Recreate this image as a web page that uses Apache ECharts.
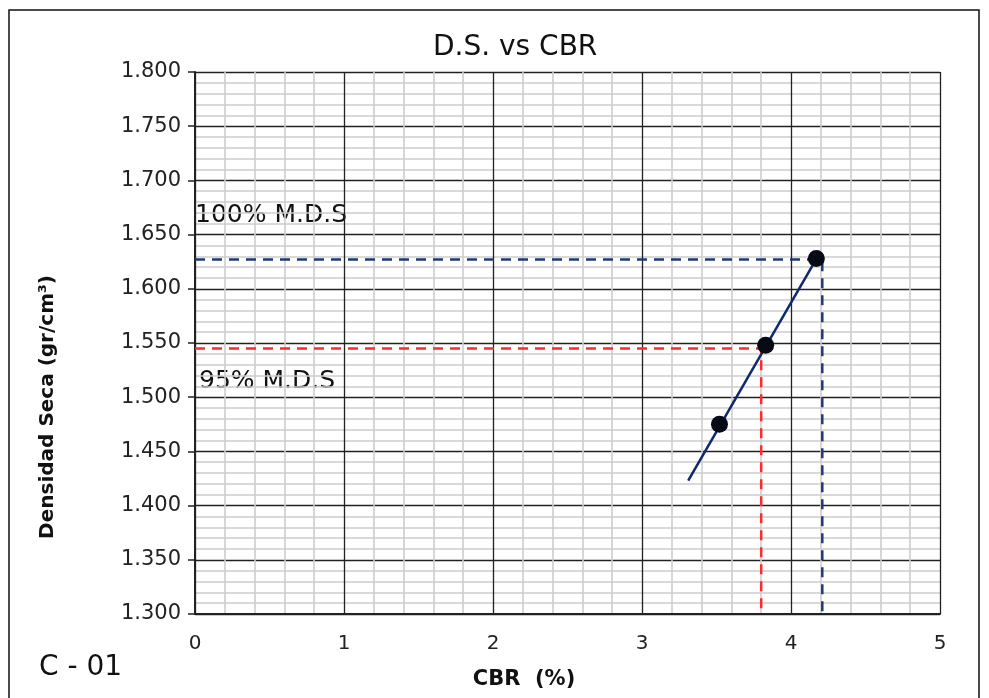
<!DOCTYPE html>
<html lang="es">
<head>
<meta charset="UTF-8">
<title>D.S. vs CBR</title>
<script src="https://cdn.jsdelivr.net/npm/echarts@6/dist/echarts.min.js"></script>
<style>
  html, body { margin: 0; padding: 0; background: #fff; }
  #main { width: 989px; height: 698px; }
</style>
</head>
<body>
<div id="main"></div>
<script>
// puntos del ensayo
var cbrPts = [3.52, 3.83, 4.17];
var dsPts = [1.475, 1.548, 1.628];
// recta de ajuste
var trendX = [3.31, 4.18];
var trendY = [1.423, 1.630];
// lineas de referencia
var mds100 = 1.627, cbr100 = 4.21;
var mds95 = 1.545, cbr95 = 3.80;

var chart = echarts.init(document.getElementById('main'));
var font = 'DejaVu Sans, sans-serif';

function pairs(xs, ys) {
  var out = [];
  for (var i = 0; i < xs.length; i++) out.push([xs[i], ys[i]]);
  return out;
}

var option = {
  backgroundColor: '#fff',
  animation: false,
  title: {
    text: 'D.S. vs CBR',
    left: 428,
    top: 29,
    textStyle: { fontFamily: font, fontSize: 28, fontWeight: 'normal', color: '#111' }
  },
  grid: { left: 195, top: 72, right: 49, bottom: 84 },
  xAxis: {
    type: 'value',
    min: 0, max: 5, interval: 1,
    axisLine: { lineStyle: { color: '#222', width: 2 } },
    axisTick: { show: false },
    axisLabel: { fontFamily: font, fontSize: 20, color: '#222', margin: 20 },
    splitLine: { lineStyle: { color: '#222', width: 1.3 } },
    minorTick: { show: false, splitNumber: 5 },
    minorSplitLine: { show: true, lineStyle: { color: '#cdcdcd', width: 1.6 } }
  },
  yAxis: {
    type: 'value',
    min: 1.3, max: 1.8, interval: 0.05,
    axisLine: { lineStyle: { color: '#222', width: 2 } },
    axisTick: { show: true, length: 7, lineStyle: { color: '#222', width: 1.5 } },
    axisLabel: {
      fontFamily: font, fontSize: 21, color: '#222', margin: 14,
      formatter: function (v) { return v.toFixed(3); }
    },
    splitLine: { lineStyle: { color: '#222', width: 1.3 } },
    minorTick: { show: false, splitNumber: 5 },
    minorSplitLine: { show: true, lineStyle: { color: '#cdcdcd', width: 1.6 } }
  },
  series: [
    {
      type: 'line',
      data: [[0, mds100], [cbr100, mds100], [cbr100, 1.3]],
      symbol: 'none',
      lineStyle: { color: '#1f3a7a', width: 2.5, type: [10, 7] },
      z: 3
    },
    {
      type: 'line',
      data: [[0, mds95], [cbr95, mds95], [cbr95, 1.3]],
      symbol: 'none',
      lineStyle: { color: '#ff2a2a', width: 2.5, type: [10, 7] },
      z: 3
    },
    {
      type: 'line',
      data: pairs(trendX, trendY),
      symbol: 'none',
      lineStyle: { color: '#0f2a6b', width: 2.5 },
      z: 4
    },
    {
      type: 'scatter',
      data: pairs(cbrPts, dsPts),
      symbolSize: 17,
      itemStyle: { color: '#050a14', opacity: 1 },
      z: 5
    }
  ],
  graphic: [
    {
      type: 'rect',
      shape: { x: 9, y: 10, width: 970, height: 700 },
      style: { fill: 'none', stroke: '#111', lineWidth: 1.5 },
      silent: true
    },
    {
      type: 'text', x: 48, y: 407, rotation: Math.PI / 2,
      style: {
        text: 'Densidad Seca (gr/cm³)', fontFamily: font, fontSize: 20, fontWeight: 'bold',
        fill: '#111', align: 'center', verticalAlign: 'middle'
      }
    },
    {
      type: 'text', x: 524, y: 680,
      style: {
        text: 'CBR  (%)', fontFamily: font, fontSize: 21, fontWeight: 'bold',
        fill: '#111', align: 'center', verticalAlign: 'middle'
      }
    },
    {
      type: 'text', left: 195, top: 203,
      style: { text: '100% M.D.S', fontFamily: font, fontSize: 25, fill: '#111' }
    },
    {
      type: 'text', left: 199, top: 369,
      style: { text: '95% M.D.S', fontFamily: font, fontSize: 25, fill: '#111' }
    },
    {
      type: 'text', left: 39, top: 654,
      style: { text: 'C - 01', fontFamily: font, fontSize: 28, fill: '#111' }
    }
  ]
};

chart.setOption(option);
</script>
</body>
</html>
